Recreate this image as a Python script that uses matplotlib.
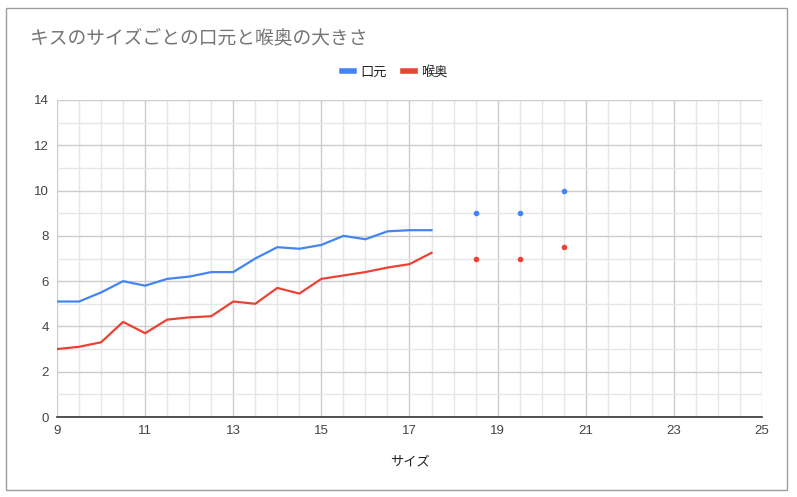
import numpy as np
import matplotlib
matplotlib.use("Agg")
import matplotlib.pyplot as plt
from matplotlib.patches import Rectangle
from matplotlib.lines import Line2D
from matplotlib.ticker import MultipleLocator, FixedLocator

plt.rcParams['font.family'] = ['Liberation Sans', 'Noto Sans CJK JP']

title = "キスのサイズごとの口元と喉奥の大きさ"
xlabel = "サイズ"
series_names = ["口元", "喉奥"]
colors = ["#4285F4", "#EA4335"]
xticks = [9, 11, 13, 15, 17, 19, 21, 23, 25]

sizes = [9, 9.5, 10, 10.5, 11, 11.5, 12, 12.5, 13, 13.5, 14, 14.5, 15, 15.5, 16, 16.5,
         17, 17.5, 18, 18.5, 19, 19.5, 20, 20.5]
mouth = [5.1, 5.1, 5.5, 6.0, 5.8, 6.1, 6.2, 6.4, 6.4, 7.0, 7.5, 7.43, 7.6, 8.0, 7.85, 8.2,
         8.25, 8.25, np.nan, 9.0, np.nan, 9.0, np.nan, 10.0]
throat = [3.0, 3.1, 3.3, 4.2, 3.7, 4.3, 4.4, 4.45, 5.1, 5.0, 5.7, 5.45, 6.1, 6.25, 6.4, 6.6,
          6.75, 7.25, np.nan, 7.0, np.nan, 7.0, np.nan, 7.5]

fig = plt.figure(figsize=(7.97, 4.97), dpi=100)
fig.patches.append(Rectangle((6/797, 1-490/497), 781/797, 482/497, transform=fig.transFigure,
                             fill=False, edgecolor="#9e9e9e", linewidth=1.0))

ax = fig.add_axes([57/797, 1-417/497, 705/797, 317/497])
x = np.array(sizes, dtype=float)
for vals, c in zip([mouth, throat], colors):
    y = np.array(vals, dtype=float)
    ax.plot(x, y, color=c, linewidth=1.6, zorder=3)
    valid = ~np.isnan(y)
    prev_ok = np.concatenate([[False], valid[:-1]])
    next_ok = np.concatenate([valid[1:], [False]])
    iso = valid & ~prev_ok & ~next_ok
    ax.plot(x[iso], y[iso], linestyle="none", marker="o", markersize=3, color=c, zorder=3)

ax.set_xlim(9, 25)
ax.set_ylim(0, 14)
ax.xaxis.set_major_locator(FixedLocator(xticks))
ax.xaxis.set_minor_locator(FixedLocator(np.arange(9, 25.01, 0.5)))
ax.yaxis.set_major_locator(MultipleLocator(2))
ax.yaxis.set_minor_locator(MultipleLocator(1))
ax.grid(which="major", color="#cccccc", linewidth=1.0, zorder=0)
ax.grid(which="minor", color="#e6e6e6", linewidth=1.0, zorder=0)
ax.set_axisbelow(True)
for s in ["top", "right", "left"]:
    ax.spines[s].set_visible(False)
ax.spines["bottom"].set_color("#333333")
ax.spines["bottom"].set_linewidth(1.2)
ax.tick_params(which="both", length=0)
ax.tick_params(axis="both", labelsize=9.5, labelcolor="#444444")
ax.tick_params(axis="x", pad=6)
ax.tick_params(axis="y", pad=6)
ax.set_xlabel(xlabel, fontsize=9.5, color="#222222", labelpad=14)

fig.text(30/797, 1-38/497, title, fontsize=13.5, color="#757575", va="center", ha="left")

handles = [Line2D([0], [0], color=c, linewidth=4) for c in colors]
fig.legend(handles, series_names, loc="center", bbox_to_anchor=(395/797, 1-72/497), ncol=2,
           frameon=False, fontsize=9.5, handlelength=0.9, handletextpad=0.5, columnspacing=1.2,
           labelcolor="#222222")

fig.savefig("out.png", dpi=100)
